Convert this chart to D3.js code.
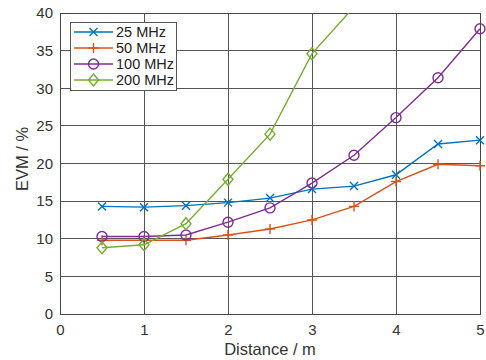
<!DOCTYPE html>
<html><head><meta charset="utf-8">
<script src="https://cdn.jsdelivr.net/npm/d3@7"></script>
<style>body{margin:0;background:#fff}svg{display:block;font-family:"Liberation Sans",Arial,sans-serif}</style>
</head><body><svg id="c" width="486" height="360"></svg>
<script>
const distances = [0.5, 1, 1.5, 2, 2.5, 3, 3.5, 4, 4.5, 5];
const evm25 = [14.3, 14.2, 14.4, 14.8, 15.4, 16.6, 17.0, 18.5, 22.6, 23.1];
const evm50 = [9.8, 9.8, 9.8, 10.5, 11.3, 12.5, 14.3, 17.6, 19.9, 19.7];
const evm100 = [10.3, 10.3, 10.5, 12.2, 14.1, 17.4, 21.1, 26.1, 31.4, 37.9];
const evm200 = [8.8, 9.2, 12.0, 17.9, 23.9, 34.6, 40.8];
const seriesNames = ["25 MHz", "50 MHz", "100 MHz", "200 MHz"];
const xTicks = [0, 1, 2, 3, 4, 5];
const yTicks = [0, 5, 10, 15, 20, 25, 30, 35, 40];

const colors = ["#0072BD", "#D95319", "#7E2F8E", "#77AC30"];
const markers = ["x", "plus", "circle", "diamond"];
const series = [evm25, evm50, evm100, evm200].map((v, i) => ({
  name: seriesNames[i], color: colors[i], marker: markers[i],
  pts: v.map((y, j) => ({x: distances[j], y}))
}));

const svg = d3.select("#c");
const L = 60, R = 480, T = 13, B = 314;
const x = d3.scaleLinear().domain([0, 5]).range([L, R]);
const y = d3.scaleLinear().domain([0, 40]).range([B, T]);

// grid
const g = svg.append("g");
g.selectAll(".gx").data(xTicks).join("line")
  .attr("x1", d => x(d)).attr("x2", d => x(d)).attr("y1", T).attr("y2", B)
  .attr("stroke", "#555").attr("stroke-width", 1).attr("shape-rendering", "crispEdges");
g.selectAll(".gy").data(yTicks).join("line")
  .attr("y1", d => y(d)).attr("y2", d => y(d)).attr("x1", L).attr("x2", R)
  .attr("stroke", "#555").attr("stroke-width", 1).attr("shape-rendering", "crispEdges");

// axes
const xAxis = svg.append("g").attr("transform", `translate(0,${B})`)
  .call(d3.axisBottom(x).tickValues(xTicks).tickSize(0).tickPadding(10).tickFormat(d3.format("d")));
const yAxis = svg.append("g").attr("transform", `translate(${L},0)`)
  .call(d3.axisLeft(y).tickValues(yTicks).tickSize(0).tickPadding(7).tickFormat(d3.format("d")));
[xAxis, yAxis].forEach(a => {
  a.select(".domain").remove();
  a.selectAll("text").attr("font-size", 15).attr("fill", "#333").attr("font-family", "Liberation Sans, Arial, sans-serif");
});

svg.append("rect").attr("x", L).attr("y", T).attr("width", R - L).attr("height", B - T)
  .attr("fill", "none").attr("stroke", "#444").attr("stroke-width", 1).attr("shape-rendering", "crispEdges");

svg.append("text").attr("x", (L + R) / 2).attr("y", 355).attr("text-anchor", "middle")
  .attr("font-size", 16.5).attr("fill", "#333").text("Distance / m");
svg.append("text").attr("transform", `translate(28,159) rotate(-90)`).attr("text-anchor", "middle")
  .attr("font-size", 16.5).attr("fill", "#333").text("EVM / %");

svg.append("clipPath").attr("id", "clip").append("rect")
  .attr("x", L - 8).attr("y", T).attr("width", R - L + 16).attr("height", B - T + 8);

function drawMarker(sel, m, color) {
  const s = 4;
  if (m === "x") {
    sel.append("path").attr("d", `M${-s},${-s}L${s},${s}M${-s},${s}L${s},${-s}`).attr("stroke", color).attr("stroke-width", 1.4).attr("fill", "none");
  } else if (m === "plus") {
    sel.append("path").attr("d", `M${-5},0L5,0M0,-5L0,5`).attr("stroke", color).attr("stroke-width", 1.4).attr("fill", "none");
  } else if (m === "circle") {
    sel.append("circle").attr("r", 5).attr("stroke", color).attr("stroke-width", 1.4).attr("fill", "none");
  } else {
    sel.append("path").attr("d", "M0,-6L5,0L0,6L-5,0Z").attr("stroke", color).attr("stroke-width", 1.4).attr("fill", "none");
  }
}

const line = d3.line().x(d => x(d.x)).y(d => y(d.y));
const plot = svg.append("g").attr("clip-path", "url(#clip)");
series.forEach(s => {
  plot.append("path").datum(s.pts).attr("d", line).attr("fill", "none")
    .attr("stroke", s.color).attr("stroke-width", 1.4);
  s.pts.forEach(p => {
    if (p.y > 40) return;
    const mg = plot.append("g").attr("transform", `translate(${x(p.x)},${y(p.y)})`);
    drawMarker(mg, s.marker, s.color);
  });
});

// legend
const lg = svg.append("g");
lg.append("rect").attr("x", 70.5).attr("y", 22.5).attr("width", 106).attr("height", 68)
  .attr("fill", "#fff").attr("stroke", "#555").attr("stroke-width", 1);
series.forEach((s, i) => {
  const yy = 32 + i * 16;
  lg.append("line").attr("x1", 74).attr("x2", 113).attr("y1", yy).attr("y2", yy)
    .attr("stroke", s.color).attr("stroke-width", 1.4);
  const mg = lg.append("g").attr("transform", `translate(93.5,${yy})`);
  drawMarker(mg, s.marker, s.color);
  lg.append("text").attr("x", 116).attr("y", yy + 5).attr("font-size", 14.5).attr("fill", "#222").text(s.name);
});
</script>
</body></html>
